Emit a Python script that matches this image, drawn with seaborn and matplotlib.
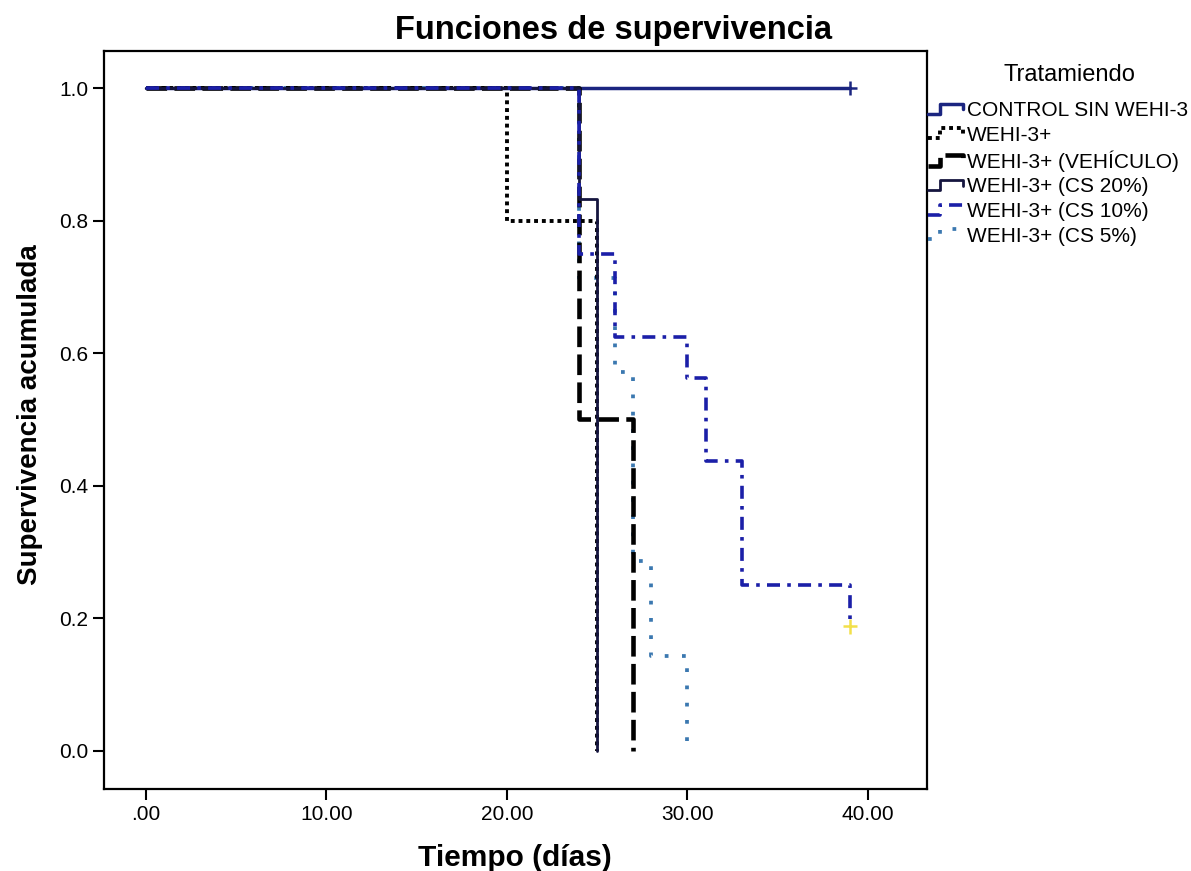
import matplotlib
matplotlib.use('Agg')
import matplotlib.pyplot as plt
from matplotlib.lines import Line2D
from matplotlib.legend_handler import HandlerLine2D
import seaborn as sns
import pandas as pd

# Curvas de Kaplan-Meier (tiempo en días, supervivencia acumulada)
t_control = [0, 39]
s_control = [1.0, 1.0]
t_wehi = [0, 20, 25]
s_wehi = [1.0, 0.8, 0.0]
t_vehiculo = [0, 24, 27]
s_vehiculo = [1.0, 0.5, 0.0]
t_cs20 = [0, 24, 25]
s_cs20 = [1.0, 0.833, 0.0]
t_cs10 = [0, 24, 26, 30, 31, 33, 39]
s_cs10 = [1.0, 0.75, 0.625, 0.5625, 0.4375, 0.25, 0.1875]
t_cs5 = [0, 24, 26, 27, 28, 30]
s_cs5 = [1.0, 0.714, 0.571, 0.286, 0.143, 0.0]

# casos censurados
censura_t = [39, 39]
censura_s = [1.0, 0.1875]

grupos = ['CONTROL SIN WEHI-3', 'WEHI-3+', 'WEHI-3+ (VEHÍCULO)',
          'WEHI-3+ (CS 20%)', 'WEHI-3+ (CS 10%)', 'WEHI-3+ (CS 5%)']
x_ticks = [0, 10, 20, 30, 40]
x_labels = ['.00', '10.00', '20.00', '30.00', '40.00']
y_ticks = [0.0, 0.2, 0.4, 0.6, 0.8, 1.0]

series = [(t_control, s_control), (t_wehi, s_wehi), (t_vehiculo, s_vehiculo),
          (t_cs20, s_cs20), (t_cs10, s_cs10), (t_cs5, s_cs5)]
estilos = [
    dict(color='#1b2580', ls='-', lw=2.5),
    dict(color='black', ls=(0, (1, 1)), lw=2.8),
    dict(color='black', ls=(0, (4.5, 1.6)), lw=3.3),
    dict(color='#15153f', ls='-', lw=2.0),
    dict(color='#1b1fa8', ls=(0, (3.6, 2.0, 1, 2.0)), lw=2.6),
    dict(color='#3b78b0', ls=(0, (1, 3.6)), lw=2.7),
]


class StepHandler(HandlerLine2D):
    # dibuja el símbolo de la leyenda en forma de escalón
    def create_artists(self, legend, orig_handle, xdescent, ydescent,
                       width, height, fontsize, trans):
        x0, y0 = -xdescent, -ydescent
        xs = [x0, x0 + 0.35 * width, x0 + 0.35 * width, x0 + width, x0 + width]
        ys = [y0 + 0.15 * height, y0 + 0.15 * height, y0 + 0.85 * height,
              y0 + 0.85 * height, y0 + 0.45 * height]
        line = Line2D(xs, ys)
        self.update_prop(line, orig_handle, legend)
        line.set_marker('None')
        line.set_transform(trans)
        return [line]


sns.set_style('ticks')
plt.rcParams['font.family'] = ['Liberation Sans', 'DejaVu Sans']
plt.rcParams.update({'text.color': 'black', 'axes.labelcolor': 'black',
                     'xtick.color': 'black', 'ytick.color': 'black'})

fig = plt.figure(figsize=(11.91, 8.71), dpi=100)
ax = fig.add_axes([0.0876, 0.0941, 0.6904, 0.8473])

orden = [0, 5, 1, 2, 3, 4]
for i in orden:
    t, s = series[i]
    df = pd.DataFrame({'Tiempo': t, 'Supervivencia': s})
    e = estilos[i]
    sns.lineplot(data=df, x='Tiempo', y='Supervivencia', estimator=None,
                 drawstyle='steps-post', color=e['color'], linestyle=e['ls'],
                 linewidth=e['lw'], ax=ax)

df_c = pd.DataFrame({'t': censura_t, 's': censura_s})
sns.scatterplot(data=df_c, x='t', y='s', hue=[0, 1], palette=['#1b2580', '#f2e04a'],
                marker='+', s=110, linewidth=1.8, legend=False, ax=ax)

ax.set_xlim(-2.29, 43.24)
ax.set_ylim(-0.058, 1.056)
ax.set_xticks(x_ticks)
ax.set_xticklabels(x_labels)
ax.set_yticks(y_ticks)
ax.set_yticklabels([f'{v:.1f}' for v in y_ticks])
ax.tick_params(labelsize=15, length=8, width=1.5, color='black', direction='out')
for sp in ax.spines.values():
    sp.set_visible(True)
    sp.set_linewidth(1.6)
    sp.set_color('black')
ax.set_xlabel('')
ax.set_ylabel('')

fig.text(613 / 1191, 1 - 30 / 871, 'Funciones de supervivencia', ha='center', va='center',
         fontsize=23.5, fontweight='bold')
fig.text(515 / 1191, 1 - 858 / 871, 'Tiempo (días)', ha='center', va='center',
         fontsize=21.5, fontweight='bold')
fig.text(30 / 1191, 1 - 415 / 871, 'Supervivencia acumulada', ha='center', va='center',
         rotation=90, fontsize=20, fontweight='bold')

# título de la leyenda
fig.text(1069 / 1191, 1 - 75 / 871, 'Tratamiendo', ha='center', va='center', fontsize=17)

handles = [Line2D([], [], color=e['color'], linestyle=e['ls'], linewidth=e['lw'])
           for e in estilos]
leg = fig.legend(handles=handles, labels=grupos, handler_map={Line2D: StepHandler()},
                 loc='upper left', bbox_to_anchor=(928 / 1191, 1 - 101 / 871),
                 frameon=False, fontsize=15,
                 handlelength=1.7, handletextpad=0.15, labelspacing=0.27,
                 borderpad=0, borderaxespad=0)

fig.savefig('out.png', dpi=100)
